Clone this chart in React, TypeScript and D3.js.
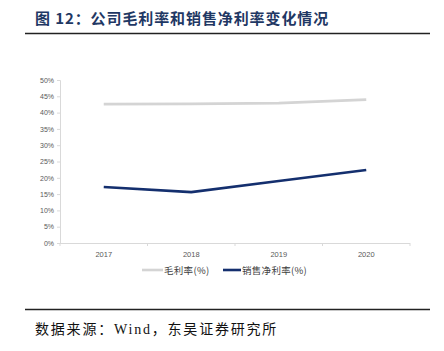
import { useEffect, useRef } from "react";
import * as d3 from "d3";

const years = ["2017", "2018", "2019", "2020"];
const grossMargin = [42.6, 42.7, 42.9, 44.0];
const netMargin = [17.2, 15.6, 19.0, 22.4];
const yTicks = [0, 5, 10, 15, 20, 25, 30, 35, 40, 45, 50];
const seriesNames = ["毛利率(%)", "销售净利率(%)"];

const GRAY = "#D4D4D4";
const NAVY = "#142F6E";
const TITLE = "#1F3864";

export default function App() {
  const ref = useRef<SVGSVGElement>(null);

  useEffect(() => {
    if (!ref.current) return;
    const W = 444, H = 351;
    const ML = 60, MR = 34, MT = 80, MB = 108;
    const iW = W - ML - MR, iH = H - MT - MB;

    const svg = d3.select(ref.current).attr("width", W).attr("height", H);
    svg.selectAll("*").remove();

    // Title + rules
    svg.append("text")
      .attr("x", 35).attr("y", 24)
      .attr("font-family", "'Noto Sans CJK SC', sans-serif")
      .attr("font-size", 15).attr("font-weight", 700)
      .attr("letter-spacing", 0.9)
      .attr("fill", TITLE)
      .text("图 12：公司毛利率和销售净利率变化情况");
    svg.append("line").attr("x1", 25).attr("x2", 430).attr("y1", 33.5).attr("y2", 33.5)
      .attr("stroke", "#222").attr("stroke-width", 1.3);
    svg.append("line").attr("x1", 25).attr("x2", 430).attr("y1", 309.5).attr("y2", 309.5)
      .attr("stroke", "#222").attr("stroke-width", 1.3);
    svg.append("text")
      .attr("x", 35).attr("y", 334)
      .attr("font-family", "'Liberation Serif', 'Noto Sans CJK SC', serif")
      .attr("font-size", 14).attr("fill", "#111")
      .attr("letter-spacing", 1.8)
      .text("数据来源：Wind，东吴证券研究所");

    const g = svg.append("g").attr("transform", `translate(${ML},${MT})`);

    const x = d3.scaleBand().domain(years).range([0, iW]);
    const y = d3.scaleLinear().domain([0, 50]).range([iH, 0]);

    // Y axis
    g.append("g")
      .call(d3.axisLeft(y).tickValues(yTicks).tickSize(3).tickPadding(3).tickFormat(v => `${v}%`))
      .call(g2 => g2.select(".domain").attr("stroke", "#D9D9D9"))
      .call(g2 => g2.selectAll("line").attr("stroke", "#D9D9D9"))
      .call(g2 => g2.selectAll("text").attr("font-size", 7).attr("fill", "#595959")
        .attr("font-family", "'Liberation Sans', Arial, sans-serif"));

    // X axis
    const xa = g.append("g").attr("transform", `translate(0,${iH})`);
    xa.append("line").attr("x1", 0).attr("x2", iW).attr("y1", 0.5).attr("y2", 0.5)
      .attr("stroke", "#D9D9D9");
    xa.selectAll("line.tk")
      .data(d3.range(years.length + 1))
      .enter().append("line").attr("class", "tk")
      .attr("x1", i => i * x.step()).attr("x2", i => i * x.step())
      .attr("y1", 0).attr("y2", 3)
      .attr("stroke", "#D9D9D9");
    xa.selectAll("text")
      .data(years)
      .enter().append("text")
      .attr("x", d => x(d)! + x.bandwidth() / 2)
      .attr("y", 14)
      .attr("text-anchor", "middle")
      .attr("font-size", 7.5).attr("fill", "#595959")
      .attr("font-family", "'Liberation Sans', Arial, sans-serif")
      .text(d => d);

    const line = d3.line<number>()
      .x((_, i) => x(years[i])! + x.bandwidth() / 2)
      .y(d => y(d));

    g.append("path").datum(grossMargin)
      .attr("d", line).attr("fill", "none")
      .attr("stroke", GRAY).attr("stroke-width", 2.8);
    g.append("path").datum(netMargin)
      .attr("d", line).attr("fill", "none")
      .attr("stroke", NAVY).attr("stroke-width", 2.6);

    // Legend
    const lg = svg.append("g").attr("transform", "translate(0,270)");
    const items = [
      { name: seriesNames[0], color: GRAY, x: 142, w: 21 },
      { name: seriesNames[1], color: NAVY, x: 223, w: 18 },
    ];
    items.forEach(it => {
      lg.append("line").attr("x1", it.x).attr("x2", it.x + it.w).attr("y1", 0).attr("y2", 0)
        .attr("stroke", it.color).attr("stroke-width", 2.6);
      lg.append("text").attr("x", it.x + it.w + 1).attr("y", 3.5)
        .attr("font-size", 9.5).attr("fill", "#404040")
        .attr("letter-spacing", 0.3)
        .attr("font-family", "'Noto Sans CJK SC', sans-serif")
        .text(it.name);
    });
  }, []);

  return (
    <svg ref={ref} style={{ position: "absolute", left: 0, top: 0, background: "#fff" }} />
  );
}
